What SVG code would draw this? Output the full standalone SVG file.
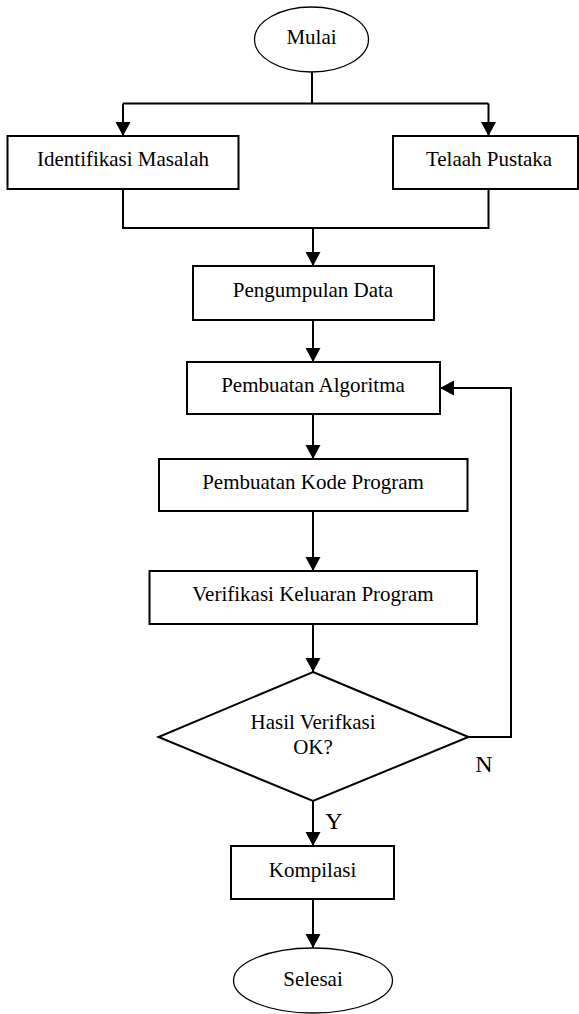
<svg xmlns="http://www.w3.org/2000/svg" width="579" height="1014" viewBox="0 0 579 1014">
<style>
.s{fill:#fff;stroke:#000;stroke-width:2}
.e{fill:#fff;stroke:#000;stroke-width:1.3}
.c{fill:none;stroke:#000;stroke-width:2}
.t{font-family:"Liberation Serif","Times New Roman",serif;font-size:21px;fill:#000;text-anchor:middle}
.l{font-family:"Liberation Serif","Times New Roman",serif;font-size:24px;fill:#000;text-anchor:middle}
</style>
<defs>
<marker id="a" markerUnits="userSpaceOnUse" markerWidth="15" markerHeight="16" refX="14" refY="7.5" orient="auto">
<path d="M0,0 L14,7.5 L0,15 z" fill="#000"/>
</marker>
</defs>
<rect width="579" height="1014" fill="#fff"/>
<g id="connectors">
<path class="c" d="M312,72 V103.5"/>
<path class="c" d="M123,103.5 H488.5"/>
<path class="c" d="M123,103.5 V136" marker-end="url(#a)"/>
<path class="c" d="M488.5,103.5 V136" marker-end="url(#a)"/>
<path class="c" d="M123,189 V228 H488.5 V189"/>
<path class="c" d="M313,228 V266" marker-end="url(#a)"/>
<path class="c" d="M313,320 V362" marker-end="url(#a)"/>
<path class="c" d="M313,414 V459" marker-end="url(#a)"/>
<path class="c" d="M313,511 V571" marker-end="url(#a)"/>
<path class="c" d="M313,624 V672" marker-end="url(#a)"/>
<path class="c" d="M468.5,737 H511 V388 H440" marker-end="url(#a)"/>
<path class="c" d="M313,801 V846" marker-end="url(#a)"/>
<path class="c" d="M313,899 V948" marker-end="url(#a)"/>
<text class="l" x="484" y="772">N</text>
<text class="l" x="334" y="829">Y</text>
</g>
<g id="mulai">
<ellipse class="e" cx="311.5" cy="39.5" rx="57" ry="32.5"/>
<text class="t" x="311.5" y="44">Mulai</text>
</g>
<g id="identifikasi">
<rect class="s" x="7.5" y="136" width="231" height="53"/>
<text class="t" x="123" y="166">Identifikasi Masalah</text>
</g>
<g id="telaah">
<rect class="s" x="393" y="136" width="185" height="53"/>
<text class="t" x="489" y="166">Telaah Pustaka</text>
</g>
<g id="pengumpulan">
<rect class="s" x="193" y="266" width="241" height="54"/>
<text class="t" x="313" y="297">Pengumpulan Data</text>
</g>
<g id="algoritma">
<rect class="s" x="187" y="362" width="253" height="52"/>
<text class="t" x="313" y="392">Pembuatan Algoritma</text>
</g>
<g id="kode">
<rect class="s" x="159" y="459" width="308.5" height="52"/>
<text class="t" x="313" y="489">Pembuatan Kode Program</text>
</g>
<g id="verifikasi">
<rect class="s" x="149.5" y="571" width="327.5" height="53"/>
<text class="t" x="313" y="601">Verifikasi Keluaran Program</text>
</g>
<g id="keputusan">
<polygon class="s" points="313,672 468.5,737 313,801 158.5,737"/>
<text class="t" x="313" y="729">Hasil Verifkasi</text>
<text class="t" x="313" y="754">OK?</text>
</g>
<g id="kompilasi">
<rect class="s" x="231" y="846" width="163" height="53"/>
<text class="t" x="312.5" y="877">Kompilasi</text>
</g>
<g id="selesai">
<ellipse class="e" cx="313" cy="980.5" rx="79.5" ry="32.5"/>
<text class="t" x="313" y="986">Selesai</text>
</g>
</svg>
